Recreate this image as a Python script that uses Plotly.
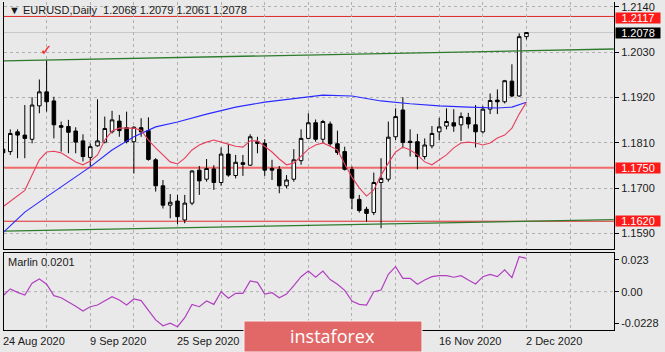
import plotly.graph_objects as go

# ---------------- data ----------------
dates = [
    "2020-08-24", "2020-08-25", "2020-08-26", "2020-08-27", "2020-08-28", "2020-08-31",
    "2020-09-01", "2020-09-02", "2020-09-03", "2020-09-04", "2020-09-07", "2020-09-08",
    "2020-09-09", "2020-09-10", "2020-09-11", "2020-09-14", "2020-09-15", "2020-09-16",
    "2020-09-17", "2020-09-18", "2020-09-21", "2020-09-22", "2020-09-23", "2020-09-24",
    "2020-09-25", "2020-09-28", "2020-09-29", "2020-09-30", "2020-10-01", "2020-10-02",
    "2020-10-05", "2020-10-06", "2020-10-07", "2020-10-08", "2020-10-09", "2020-10-12",
    "2020-10-13", "2020-10-14", "2020-10-15", "2020-10-16", "2020-10-19", "2020-10-20",
    "2020-10-21", "2020-10-22", "2020-10-23", "2020-10-26", "2020-10-27", "2020-10-28",
    "2020-10-29", "2020-10-30", "2020-11-02", "2020-11-03", "2020-11-04", "2020-11-05",
    "2020-11-06", "2020-11-09", "2020-11-10", "2020-11-11", "2020-11-12", "2020-11-13",
    "2020-11-16", "2020-11-17", "2020-11-18", "2020-11-19", "2020-11-20", "2020-11-23",
    "2020-11-24", "2020-11-25", "2020-11-26", "2020-11-27", "2020-11-30", "2020-12-01",
    "2020-12-02",
]

opens = [1.1795, 1.1789, 1.1837, 1.1829, 1.1819, 1.1900, 1.1934, 1.1912, 1.1852, 1.1850,
         1.1839, 1.1815, 1.1775, 1.1803, 1.1812, 1.1837, 1.1863, 1.1847, 1.1813, 1.1847,
         1.1840, 1.1769, 1.1706, 1.1659, 1.1669, 1.1623, 1.1664, 1.1744, 1.1722, 1.1747,
         1.1714, 1.1783, 1.1731, 1.1762, 1.1756, 1.1813, 1.1809, 1.1748, 1.1746, 1.1706,
         1.1722, 1.1767, 1.1821, 1.1859, 1.1819, 1.1856, 1.1808, 1.1789, 1.1746, 1.1673,
         1.1649, 1.1641, 1.1714, 1.1722, 1.1825, 1.1890, 1.1814, 1.1813, 1.1777, 1.1803,
         1.1837, 1.1851, 1.1859, 1.1854, 1.1872, 1.1854, 1.1837, 1.1892, 1.1914, 1.1910,
         1.1960, 1.1924, 1.2068]
highs = [1.1850, 1.1843, 1.1843, 1.1902, 1.1921, 1.1964, 1.2011, 1.1922, 1.1862, 1.1866,
         1.1848, 1.1831, 1.1809, 1.1916, 1.1874, 1.1888, 1.1878, 1.1886, 1.1851, 1.1870,
         1.1872, 1.1773, 1.1720, 1.1686, 1.1684, 1.1684, 1.1744, 1.1754, 1.1771, 1.1756,
         1.1799, 1.1807, 1.1781, 1.1781, 1.1831, 1.1825, 1.1819, 1.1769, 1.1754, 1.1732,
         1.1795, 1.1843, 1.1882, 1.1867, 1.1866, 1.1862, 1.1840, 1.1801, 1.1753, 1.1684,
         1.1655, 1.1738, 1.1773, 1.1862, 1.1894, 1.1921, 1.1843, 1.1832, 1.1821, 1.1851,
         1.1871, 1.1894, 1.1892, 1.1884, 1.1883, 1.1902, 1.1900, 1.1930, 1.1940, 1.1963,
         1.2001, 1.2076, 1.2079]
lows = [1.1781, 1.1781, 1.1773, 1.1773, 1.1809, 1.1882, 1.1886, 1.1821, 1.1789, 1.1785,
        1.1785, 1.1765, 1.1753, 1.1801, 1.1809, 1.1833, 1.1825, 1.1809, 1.1736, 1.1825,
        1.1767, 1.1692, 1.1651, 1.1627, 1.1613, 1.1615, 1.1659, 1.1684, 1.1716, 1.1696,
        1.1706, 1.1728, 1.1724, 1.1730, 1.1754, 1.1785, 1.1730, 1.1720, 1.1688, 1.1700,
        1.1716, 1.1757, 1.1819, 1.1813, 1.1809, 1.1803, 1.1781, 1.1743, 1.1649, 1.1641,
        1.1619, 1.1635, 1.1603, 1.1716, 1.1817, 1.1797, 1.1777, 1.1746, 1.1770, 1.1797,
        1.1817, 1.1843, 1.1837, 1.1815, 1.1845, 1.1799, 1.1833, 1.1880, 1.1880, 1.1906,
        1.1921, 1.1922, 1.2061]
closes = [1.1786, 1.1833, 1.1829, 1.1821, 1.1902, 1.1934, 1.1910, 1.1854, 1.1848, 1.1836,
          1.1812, 1.1777, 1.1801, 1.1815, 1.1845, 1.1866, 1.1840, 1.1813, 1.1848, 1.1837,
          1.1770, 1.1706, 1.1659, 1.1666, 1.1631, 1.1664, 1.1742, 1.1718, 1.1748, 1.1714,
          1.1783, 1.1732, 1.1763, 1.1758, 1.1825, 1.1809, 1.1744, 1.1744, 1.1706, 1.1720,
          1.1769, 1.1821, 1.1859, 1.1819, 1.1862, 1.1808, 1.1787, 1.1746, 1.1676, 1.1646,
          1.1639, 1.1714, 1.1724, 1.1824, 1.1874, 1.1811, 1.1811, 1.1777, 1.1805, 1.1833,
          1.1849, 1.1862, 1.1851, 1.1874, 1.1856, 1.1837, 1.1892, 1.1913, 1.1910, 1.1961,
          1.1924, 1.2068, 1.2078]

fast_ma = [1.1655, 1.1668, 1.1680, 1.1695, 1.1732, 1.1769, 1.1788, 1.1790, 1.1786, 1.1776,
           1.1764, 1.1757, 1.1766, 1.1781, 1.1817, 1.1839, 1.1846, 1.1846, 1.1846, 1.1841,
           1.1817, 1.1798, 1.1781, 1.1764, 1.1759, 1.1773, 1.1793, 1.1805, 1.1812, 1.1817,
           1.1812, 1.1807, 1.1802, 1.1800, 1.1815, 1.1815, 1.1802, 1.1788, 1.1771, 1.1757,
           1.1761, 1.1778, 1.1795, 1.1805, 1.1810, 1.1802, 1.1793, 1.1759, 1.1727, 1.1701,
           1.1681, 1.1696, 1.1732, 1.1761, 1.1788, 1.1800, 1.1793, 1.1781, 1.1764, 1.1757,
           1.1769, 1.1781, 1.1798, 1.1810, 1.1812, 1.1810, 1.1805, 1.1810, 1.1822, 1.1829,
           1.1846, 1.1880, 1.1909]

slow_ma_bar = [0, 3, 6, 9, 12, 15, 18, 21, 24, 28, 32, 36, 40, 44, 48, 52, 56, 60, 64, 68, 70, 72]
slow_ma = [1.1592, 1.1642, 1.1679, 1.1715, 1.1752, 1.1793, 1.1825, 1.1849, 1.1861, 1.1880,
           1.1897, 1.1909, 1.1917, 1.1926, 1.1924, 1.1912, 1.1905, 1.1900, 1.1897, 1.1895,
           1.1897, 1.1909]

marlin = [-0.0030, 0.0020, -0.0005, -0.0024, 0.0061, 0.0092, 0.0054, -0.0029, -0.0044, -0.0073,
          -0.0105, -0.0140, -0.0109, -0.0097, -0.0068, -0.0036, -0.0060, -0.0097, -0.0053, -0.0065,
          -0.0135, -0.0205, -0.0247, -0.0229, -0.0254, -0.0189, -0.0092, -0.0109, -0.0068, -0.0092,
          0.0000, -0.0048, -0.0012, -0.0012, 0.0078, 0.0068, -0.0017, -0.0007, -0.0044, -0.0017,
          0.0044, 0.0109, 0.0150, 0.0105, 0.0150, 0.0088, 0.0054, 0.0010, -0.0068, -0.0092,
          -0.0097, 0.0000, 0.0012, 0.0126, 0.0182, 0.0097, 0.0097, 0.0054, 0.0085, 0.0109,
          0.0116, 0.0116, 0.0105, 0.0116, 0.0085, 0.0056, 0.0109, 0.0126, 0.0109, 0.0158,
          0.0102, 0.0254, 0.0242]

channel_bar = [0, 84]
channel_upper = [1.2009, 1.2038]
channel_lower = [1.1596, 1.1624]

red_levels = [1.2117, 1.1750, 1.1620]
red_level_labels = ["1.2117", "1.1750", "1.1620"]
bid_price = 1.2078
bid_label = "1.2078"
check_bar = 6

price_ticks = [1.2140, 1.2030, 1.1920, 1.1810, 1.1700, 1.1590]
price_tick_text = ["1.2140", "1.2030", "1.1920", "1.1810", "1.1700", "1.1590"]
ind_ticks = [0.023, 0.0, -0.0228]
ind_tick_text = ["0.023", "0.00", "-0.0228"]
grid_bars = [0, 6, 12, 18, 24, 30, 36, 42, 48, 54, 60, 66, 72, 78, 84]
date_label_bars = [0, 12, 24, 60, 72]
date_labels = ["24 Aug 2020", "9 Sep 2020", "25 Sep 2020", "16 Nov 2020", "2 Dec 2020"]

title_text = "\u25BC EURUSD,Daily\u00a0\u00a01.2068 1.2079 1.2061 1.2078"
ind_title = "Marlin 0.0201"
logo_text = "instaforex"

# ---------------- figure ----------------
FONT = "Liberation Sans, Arial, sans-serif"
BG = "#e9e9e9"
GRID = "#b0b0b0"
XR = [0.1376, 84.04]
bars = list(range(len(dates)))

fig = go.Figure()

fig.add_trace(go.Scatter(x=channel_bar, y=channel_upper, mode="lines",
                         line=dict(color="#2e7b2e", width=1.3), hoverinfo="skip",
                         xaxis="x", yaxis="y"))
fig.add_trace(go.Scatter(x=channel_bar, y=channel_lower, mode="lines",
                         line=dict(color="#2e7b2e", width=1.3), hoverinfo="skip",
                         xaxis="x", yaxis="y"))
fig.add_trace(go.Scatter(x=slow_ma_bar, y=slow_ma, mode="lines",
                         line=dict(color="#2a2aff", width=1.1), hoverinfo="skip",
                         xaxis="x", yaxis="y"))
fig.add_trace(go.Scatter(x=bars, y=fast_ma, mode="lines",
                         line=dict(color="#e8405e", width=1.1), hoverinfo="skip",
                         xaxis="x", yaxis="y"))

fig.add_trace(go.Candlestick(
    x=bars, open=opens, high=highs, low=lows, close=closes,
    increasing=dict(line=dict(color="black", width=1), fillcolor="white"),
    decreasing=dict(line=dict(color="black", width=1), fillcolor="black"),
    whiskerwidth=0, xaxis="x", yaxis="y", hoverinfo="skip"))

fig.add_trace(go.Scatter(x=bars, y=marlin, mode="lines",
                         line=dict(color="#b040c0", width=1.2), hoverinfo="skip",
                         xaxis="x2", yaxis="y2"))

shapes = []
shapes.append(dict(type="line", xref="x domain", yref="y", x0=0, x1=1, y0=bid_price, y1=bid_price,
                   line=dict(color="#c8c8c8", width=1), layer="below"))
for lv in red_levels:
    w = 2 if abs(lv - 1.1750) < 1e-6 else 1
    c = "#f06a6a" if w == 2 else "#e02a2a"
    shapes.append(dict(type="line", xref="x domain", yref="y", x0=0, x1=1, y0=lv, y1=lv,
                       line=dict(color=c, width=w), layer="below"))
shapes.append(dict(type="line", xref="x2 domain", yref="y2", x0=0, x1=1, y0=0, y1=0,
                   line=dict(color=GRID, width=1, dash="3px,3px"), layer="below"))
shapes.append(dict(type="rect", xref="paper", yref="paper", x0=0.3934, x1=0.6852,
                   y0=-0.0671, y1=0.0274, fillcolor="#e26868",
                   line=dict(color="#f4f4f4", width=1), layer="above"))

annotations = []
annotations.append(dict(xref="paper", yref="paper", x=0.005, y=0.9756, xanchor="left",
                        yanchor="middle", text=title_text, showarrow=False,
                        font=dict(family=FONT, size=11, color="#1a1a1a")))
annotations.append(dict(xref="paper", yref="paper", x=0.003, y=0.2073, xanchor="left",
                        yanchor="middle", text=ind_title, showarrow=False,
                        font=dict(family=FONT, size=11, color="#1a1a1a")))
annotations.append(dict(xref="x", yref="y", x=check_bar, y=highs[check_bar], yshift=10,
                        text="\u2713", showarrow=False,
                        font=dict(family="DejaVu Sans", size=15, color="#ff2020")))
for b, t in zip(date_label_bars, date_labels):
    xp = (b - XR[0]) / (XR[1] - XR[0])
    annotations.append(dict(xref="paper", yref="paper", x=xp, y=-0.0335, xanchor="left",
                            yanchor="middle", xshift=-2, text=t, showarrow=False,
                            font=dict(family=FONT, size=11, color="#1a1a1a")))
label_shift = [-1.5, -0.5, 0.5]
for lv, t, s in zip(red_levels, red_level_labels, label_shift):
    annotations.append(dict(xref="paper", yref="y", x=1.0016, y=lv, xanchor="left",
                            yanchor="middle", yshift=s, text=t, showarrow=False,
                            width=44, height=10, align="center", borderpad=0,
                            bgcolor="#ff1a1a",
                            font=dict(family=FONT, size=11, color="white")))
annotations.append(dict(xref="paper", yref="y", x=1.0016, y=bid_price, xanchor="left",
                        yanchor="middle", text=bid_label, showarrow=False, width=44, height=10,
                        align="center", borderpad=0, bgcolor="#000000",
                        font=dict(family=FONT, size=11, color="white")))
annotations.append(dict(xref="paper", yref="paper", x=0.5393, y=-0.0183, xanchor="center",
                        yanchor="middle", text=logo_text, showarrow=False,
                        font=dict(family="Open Sans, Liberation Sans", size=18, color="white")))

axis_font = dict(family=FONT, size=11, color="#1a1a1a")
xcommon = dict(range=XR, tickmode="array", tickvals=grid_bars,
               showticklabels=False, showgrid=True, gridcolor=GRID, griddash="3px,3px",
               gridwidth=1, zeroline=False, ticks="", showline=True, linecolor="black",
               linewidth=1)

fig.update_layout(
    width=665, height=352,
    margin=dict(l=4, r=51, t=2, b=22),
    paper_bgcolor=BG, plot_bgcolor=BG,
    showlegend=False,
    xaxis=dict(**xcommon, anchor="y", domain=[0, 1], rangeslider=dict(visible=False), mirror=False),
    xaxis2=dict(**xcommon, anchor="y2", domain=[0, 1], matches="x", mirror=True),
    yaxis=dict(domain=[0.24695, 1], range=[1.15526, 1.21521], side="right",
               tickmode="array", tickvals=price_ticks, ticktext=price_tick_text,
               ticks="outside", ticklen=4, tickcolor="black", tickfont=axis_font,
               showgrid=True, gridcolor=GRID, griddash="3px,3px", zeroline=False,
               showline=True, mirror=True, linecolor="black", linewidth=1, anchor="x"),
    yaxis2=dict(domain=[0, 0.23476], range=[-0.02781, 0.02808], side="right",
                tickmode="array", tickvals=ind_ticks, ticktext=ind_tick_text,
                ticks="outside", ticklen=4, tickcolor="black", tickfont=axis_font,
                showgrid=False, zeroline=False,
                showline=True, mirror=True, linecolor="black", linewidth=1, anchor="x2"),
    shapes=shapes,
    annotations=annotations,
)

fig.write_html("out.html")
